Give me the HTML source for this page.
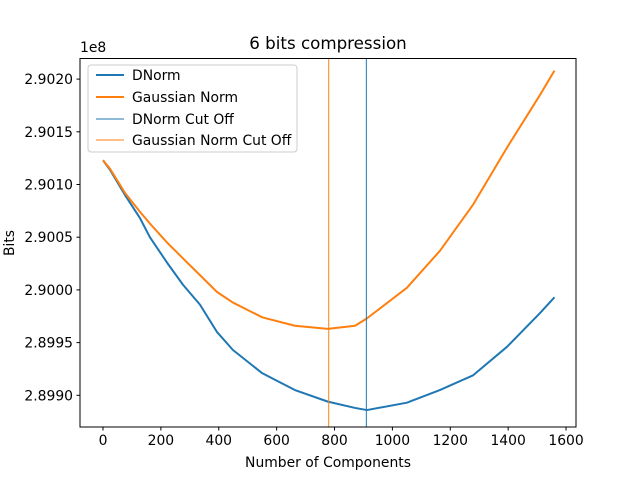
<!DOCTYPE html>
<html><head><meta charset="utf-8"><style>
body{margin:0;background:#fff}
svg{display:block;font-family:"DejaVu Sans","Liberation Sans",sans-serif}
</style></head><body>
<svg id="chart" width="640" height="480" viewBox="0 0 640 480">
<rect width="640" height="480" fill="#fff"/>
<text x="328" y="49" font-size="16.7" text-anchor="middle">6 bits compression</text>
<text x="80" y="52" font-size="13.9">1e8</text>
<g id="plot"></g>
<rect x="80" y="58.5" width="496" height="368.5" fill="none" stroke="#000" stroke-width="1"/>
<text x="328" y="467" font-size="13.9" text-anchor="middle">Number of Components</text>
<text x="14" y="243" font-size="13.9" text-anchor="middle" transform="rotate(-90 14 243)">Bits</text>
<g>
<rect x="88" y="65" width="209" height="87" rx="3" fill="#fff" fill-opacity="0.8" stroke="#ccc"/>
<line x1="96" y1="75" x2="124" y2="75" stroke="#1f77b4" stroke-width="2"/>
<text x="132" y="80" font-size="13.9">DNorm</text>
<line x1="96" y1="97" x2="124" y2="97" stroke="#ff7f0e" stroke-width="2"/>
<text x="132" y="102" font-size="13.9">Gaussian Norm</text>
<line x1="96" y1="119" x2="124" y2="119" stroke="#1f77b4" stroke-width="1"/>
<text x="132" y="124" font-size="13.9">DNorm Cut Off</text>
<line x1="96" y1="140" x2="124" y2="140" stroke="#ff7f0e" stroke-width="1"/>
<text x="132" y="145" font-size="13.9">Gaussian Norm Cut Off</text>
</g>
</svg>
<script>
// bits in units of 1e6
const components=[0,24,76,128,162,221,276,335,394,449,550,663,777,871,912,1050,1164,1279,1396,1510,1560];
const dnormBits=[290.123,290.114,290.090,290.068,290.050,290.026,290.005,289.986,289.960,289.943,289.921,289.905,289.894,289.888,289.886,289.893,289.905,289.919,289.946,289.978,289.993];
const gaussBits=[290.123,290.115,290.092,290.074,290.063,290.045,290.030,290.014,289.998,289.988,289.974,289.966,289.963,289.966,289.973,290.002,290.037,290.081,290.135,290.185,290.208];
const cutoffs=[910,780];
const xTicks=[0,200,400,600,800,1000,1200,1400,1600];
const yTicks=[289.9,289.95,290.0,290.05,290.1,290.15,290.2];
const yTickLabels=["2.8990","2.8995","2.9000","2.9005","2.9010","2.9015","2.9020"];
const NS="http://www.w3.org/2000/svg";
const g=document.getElementById('plot');
function X(d){return 103+d*0.2894;}
function Y(b){return 395.3-(b-289.9)/0.05*52.7;}
function mk(tag,attrs){const e=document.createElementNS(NS,tag);for(const k in attrs)e.setAttribute(k,attrs[k]);g.appendChild(e);return e;}
xTicks.forEach(t=>{
  const l=mk('line',{x1:X(t),x2:X(t),y1:427,y2:430.5,stroke:'#000'});
  
  
  const tx=mk('text',{x:X(t),y:445,'font-size':13.9,'text-anchor':'middle'});
  tx.textContent=t;
  
  
});
yTicks.forEach((t,i)=>{
  const l=mk('line',{x1:76.5,x2:80,y1:Y(t),y2:Y(t),stroke:'#000'});
  
  
  const tx=mk('text',{x:73,y:Y(t)+5,'font-size':13.9,'text-anchor':'end'});
  tx.textContent=yTickLabels[i];
  
  
});
function line(vals,color,name){
  const p=mk('polyline',{points:components.map((c,i)=>X(c)+','+Y(vals[i])).join(' '),fill:'none',stroke:color,'stroke-width':2,'stroke-linejoin':'round'});
  
  
}
line(dnormBits,'#1f77b4','dnorm-line');
line(gaussBits,'#ff7f0e','gaussian-norm-line');
const cc=['#1f77b4','#ff7f0e'];const cn=['dnorm-cutoff-line','gaussian-cutoff-line'];
cutoffs.forEach((c,i)=>{
  const l=mk('line',{x1:X(c),x2:X(c),y1:58.5,y2:427,stroke:cc[i],'stroke-width':1});
  
  
});
</script>
</body></html>
